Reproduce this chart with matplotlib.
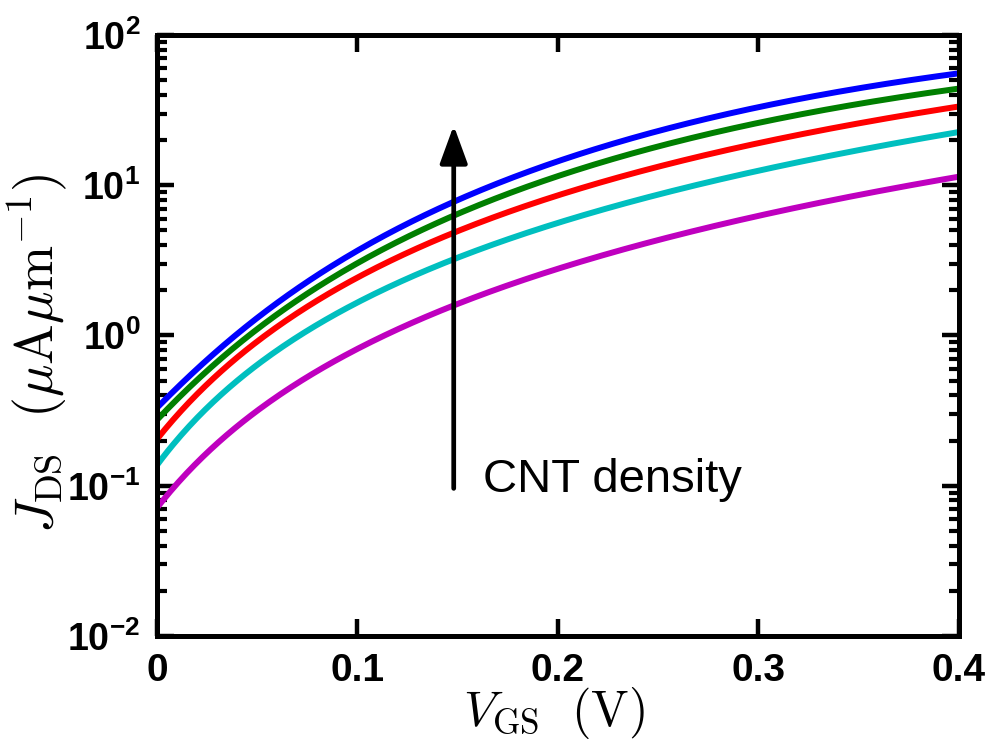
import numpy as np
import matplotlib
matplotlib.use("Agg")
import matplotlib.pyplot as plt
from matplotlib.ticker import FixedLocator, FixedFormatter, LogLocator, NullFormatter

plt.rcParams['mathtext.fontset'] = 'custom'
plt.rcParams['mathtext.rm'] = 'Liberation Sans:bold'
plt.rcParams['mathtext.it'] = 'Liberation Sans:bold'
plt.rcParams['mathtext.bf'] = 'Liberation Sans:bold'
plt.rcParams['mathtext.default'] = 'it'

# Data
vgs = [0.0, 0.05, 0.10, 0.148, 0.20, 0.25, 0.30, 0.35, 0.40]
j_blue    = [0.33, 1.32, 3.6, 7.96, 14.1, 23.3, 33.3, 43.7, 55.8]
j_green   = [0.275, 1.09, 3.03, 6.5, 11.2, 18.2, 25.9, 34.7, 44.3]
j_red     = [0.205, 0.89, 2.52, 4.9, 8.2, 13.2, 19.4, 26.3, 33.0]
j_cyan    = [0.138, 0.61, 1.80, 3.18, 5.3, 8.6, 13.0, 17.4, 22.2]
j_magenta = [0.071, 0.32, 0.80, 1.64, 2.64, 4.3, 6.5, 8.8, 11.1]
series = [j_magenta, j_cyan, j_red, j_green, j_blue]
colors = ['#BF00BF', '#00BFBF', '#FF0000', '#007F00', '#0000FF']

xticks = [0, 0.1, 0.2, 0.3, 0.4]
xticklabels = ['0', '0.1', '0.2', '0.3', '0.4']
yticks = [1e-2, 1e-1, 1e0, 1e1, 1e2]
yticklabels = [r'$10^{-2}$', r'$10^{-1}$', r'$10^{0}$', r'$10^{1}$', r'$10^{2}$']

arrow_x = 0.148
arrow_y0, arrow_y1 = 0.096, 25.0
annot_text = 'CNT density'

fig = plt.figure(figsize=(9.91, 7.42), dpi=100)
ax = fig.add_axes([0.1584, 0.1429, 0.8093, 0.8099])

xf = np.linspace(0, 0.4, 300)
for y, c in zip(series, colors):
    u = np.log(np.asarray(vgs) + 0.08)
    coef = np.polyfit(u, np.log10(y), 3)
    ax.plot(xf, 10 ** np.polyval(coef, np.log(xf + 0.08)), color=c, lw=4.3,
            solid_capstyle='butt')

ax.set_yscale('log')
ax.set_xlim(0, 0.4)
ax.set_ylim(1e-2, 1e2)

ax.xaxis.set_major_locator(FixedLocator(xticks))
ax.xaxis.set_major_formatter(FixedFormatter(xticklabels))
ax.yaxis.set_major_locator(FixedLocator(yticks))
ax.yaxis.set_major_formatter(FixedFormatter(yticklabels))
ax.yaxis.set_minor_locator(LogLocator(base=10, subs=np.arange(2, 10), numticks=20))
ax.yaxis.set_minor_formatter(NullFormatter())

for s in ax.spines.values():
    s.set_linewidth(3.6)
ax.tick_params(axis='both', which='both', direction='in', top=True, right=True)
ax.tick_params(axis='both', which='major', length=12, width=3.2)
ax.tick_params(axis='y', which='minor', length=7, width=3.0)
ax.tick_params(axis='x', which='major', pad=12)
ax.tick_params(axis='y', which='major', pad=12)
for lab in ax.get_xticklabels():
    lab.set_fontfamily('Liberation Sans')
    lab.set_fontweight('bold')
    lab.set_fontsize(28)
for lab in ax.get_yticklabels():
    lab.set_fontsize(27)

ax.set_xlabel(r'$V_{\rm GS}\ \ (\rm V)$', fontsize=36, math_fontfamily='cm')
ax.xaxis.set_label_coords(0.495, -0.082)
ax.set_ylabel(r'$J_{\rm DS}\ \ (\mu{\rm A}\mu{\rm m}^{-1})$', fontsize=39, math_fontfamily='cm')
ax.yaxis.set_label_coords(-0.110, 0.47)

ax.annotate('', xy=(arrow_x, arrow_y1), xytext=(arrow_x, arrow_y0),
            arrowprops=dict(arrowstyle='-|>,head_length=1.15,head_width=0.42', color='black', lw=3.4,
                            shrinkA=0, shrinkB=0, mutation_scale=20))
ax.text(0.1625, 0.109, annot_text, fontsize=34, fontfamily='Liberation Sans',
        va='center', ha='left')

fig.savefig('out.png', dpi=100)
